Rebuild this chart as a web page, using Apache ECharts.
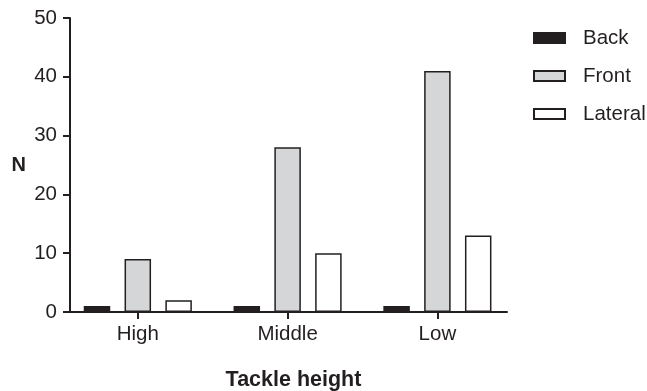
<!DOCTYPE html>
<html><head><meta charset="utf-8">
<script src="https://cdn.jsdelivr.net/npm/echarts@6/dist/echarts.min.js"></script>
<style>html,body{margin:0;padding:0;background:#fff}#c{width:647px;height:391px}</style>
</head><body><div id="c"></div>
<script>
const categories = ['High', 'Middle', 'Low'];
const backValues = [1, 1, 1];
const frontValues = [9, 28, 41];
const lateralValues = [2, 10, 13];
const yTicks = [0, 10, 20, 30, 40, 50];

const ink = '#231f20';
const font = 'Liberation Sans, Arial, sans-serif';
const chart = echarts.init(document.getElementById('c'), null, {renderer: 'canvas'});
const barBase = {type: 'bar', barWidth: 26.5, barGap: '54%', xAxisIndex: 0, yAxisIndex: 0};
chart.setOption({
  animation: false,
  backgroundColor: '#fff',
  title: {text: 'Tackle height', left: 288.5, textAlign: 'center', top: 364,
    textStyle: {fontFamily: font, fontSize: 21.5, fontWeight: 'bold', color: ink}},
  legend: {orient: 'vertical', left: 533, top: 27.5, itemWidth: 31, itemHeight: 10, itemGap: 17,
    padding: 0, icon: 'rect',
    textStyle: {fontFamily: font, fontSize: 20.5, color: ink, lineHeight: 21, padding: [0, 0, 0, 13]},
    data: ['Back', 'Front', 'Lateral']},
  grid: [
    {left: 62.9, width: 449.4, top: 18, height: 294},
    {left: 70, width: 437, top: 18, height: 294}
  ],
  xAxis: [
    {type: 'category', gridIndex: 0, data: categories,
      axisLine: {show: false},
      axisTick: {show: true, alignWithLabel: true, length: 7, lineStyle: {color: ink, width: 2}},
      axisLabel: {fontFamily: font, fontSize: 20.5, color: ink, margin: 12}},
    {type: 'value', gridIndex: 1, min: 0, max: 1,
      axisLine: {show: true, lineStyle: {color: ink, width: 2}},
      axisTick: {show: false}, axisLabel: {show: false}, splitLine: {show: false}}
  ],
  yAxis: [
    {type: 'value', gridIndex: 0, min: yTicks[0], max: yTicks[yTicks.length - 1], interval: 10,
      offset: -7.1,
      name: 'N', nameLocation: 'middle', nameRotate: 0, nameGap: 44,
      nameTextStyle: {fontFamily: font, fontSize: 20, fontWeight: 'bold', color: ink, padding: [6, 0, 0, 0]},
      axisLine: {show: true, lineStyle: {color: ink, width: 2}},
      axisTick: {show: true, length: 7, lineStyle: {color: ink, width: 2}},
      axisLabel: {fontFamily: font, fontSize: 20.5, color: ink, margin: 13},
      splitLine: {show: false}},
    {type: 'value', gridIndex: 1, show: false, min: 0, max: 1}
  ],
  series: [
    Object.assign({name: 'Back', data: backValues,
      itemStyle: {color: ink, borderColor: ink, borderWidth: 1.5}}, barBase),
    Object.assign({name: 'Front', data: frontValues,
      itemStyle: {color: '#d5d6d8', borderColor: ink, borderWidth: 1.5}}, barBase),
    Object.assign({name: 'Lateral', data: lateralValues,
      itemStyle: {color: '#ffffff', borderColor: ink, borderWidth: 1.5}}, barBase)
  ]
});
</script></body></html>
